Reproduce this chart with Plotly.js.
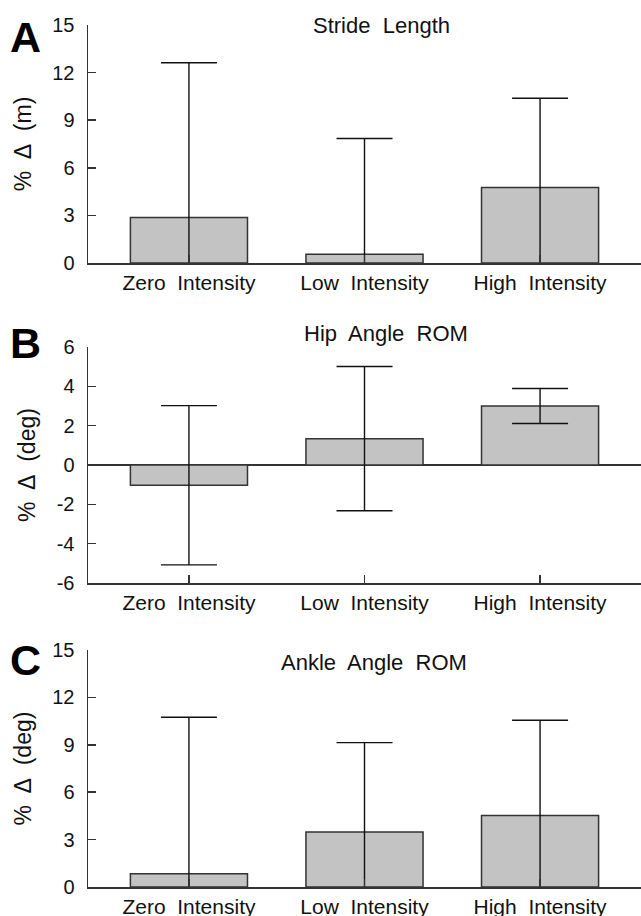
<!DOCTYPE html>
<html><head><meta charset="utf-8">
<script src="https://cdn.plot.ly/plotly-3.0.1.min.js"></script>
<style>html,body{margin:0;padding:0;background:#fff}#chart{width:641px;height:916px}</style>
</head><body><div id="chart"></div>
<script>
const categories = ["Zero\u00a0 Intensity", "Low\u00a0 Intensity", "High\u00a0 Intensity"];
const strideMean = [2.86, 0.55, 4.76];
const strideSD = [9.76, 7.3, 5.62];
const hipMean = [-1.03, 1.34, 3.0];
const hipSD = [4.05, 3.67, 0.89];
const ankleMean = [0.84, 3.48, 4.53];
const ankleSD = [9.9, 5.66, 6.02];
const panelTitles = ["Stride\u00a0 Length", "Hip\u00a0 Angle\u00a0 ROM", "Ankle\u00a0 Angle\u00a0 ROM"];
const panelLetters = ["A", "B", "C"];
const yTitles = ["%\u00a0 \u0394\u00a0 (m)", "%\u00a0 \u0394\u00a0 (deg)", "%\u00a0 \u0394\u00a0 (deg)"];
const strideTickVals = [0, 3, 6, 9, 12, 15];
const strideTickText = ["0", "3", "6", "9", "12", "15"];
const hipTickVals = [-6, -4, -2, 0, 2, 4, 6];
const hipTickText = ["-6", "-4", "-2", "0", "2", "4", "6"];
const ankleTickVals = [0, 3, 6, 9, 12, 15];
const ankleTickText = ["0", "3", "6", "9", "12", "15"];
const yRanges = [[0, 15], [-6, 6], [0, 15]];

const means = [strideMean, hipMean, ankleMean];
const sds = [strideSD, hipSD, ankleSD];
const tickVals = [strideTickVals, hipTickVals, ankleTickVals];
const tickText = [strideTickText, hipTickText, ankleTickText];

const H = 916, W = 641;
const font = "Arial, 'Liberation Sans', sans-serif";
const axisColor = "#333";
// pixel positions of top/bottom of each panel's plot area
const panelPx = [[25, 263], [347, 583], [650, 887]];
const titlePx = [[381, 25], [386, 333], [374, 662]];
const letterPx = [[25, 37], [25, 343], [25, 660]];

const traces = means.map((m, i) => ({
  type: "bar",
  x: categories,
  y: m,
  xaxis: i === 0 ? "x" : "x" + (i + 1),
  yaxis: i === 0 ? "y" : "y" + (i + 1),
  marker: { color: "#c3c3c3", line: { color: "#333", width: 1.5 } },
  error_y: { type: "data", array: sds[i], visible: true, color: "#111", thickness: 1.4, width: 28 },
  hoverinfo: "none",
  showlegend: false
}));

const layout = {
  width: W, height: H,
  margin: { l: 0, r: 0, t: 0, b: 0 },
  paper_bgcolor: "#fff", plot_bgcolor: "#fff",
  bargap: 0.333,
  font: { family: font, color: "#111" },
  showlegend: false,
  annotations: []
};

for (let i = 0; i < 3; i++) {
  const sfx = i === 0 ? "" : String(i + 1);
  const dom = [1 - panelPx[i][1] / H, 1 - panelPx[i][0] / H];
  layout["xaxis" + sfx] = {
    domain: [88 / W, 1],
    anchor: "y" + sfx,
    type: "category",
    range: [-0.575, 2.575],
    showline: true, linecolor: axisColor, linewidth: 1.5,
    ticks: "inside", ticklen: 8, tickcolor: axisColor, tickwidth: 1.5,
    tickfont: { size: 21, family: font, color: "#111" },
    showgrid: false, zeroline: false, fixedrange: true
  };
  layout["yaxis" + sfx] = {
    domain: dom,
    anchor: "x" + sfx,
    range: yRanges[i],
    tickmode: "array", tickvals: tickVals[i], ticktext: tickText[i],
    showline: true, linecolor: axisColor, linewidth: 1.5,
    ticks: "inside", ticklen: 8, tickcolor: axisColor, tickwidth: 1.5,
    tickfont: { size: 20, family: font, color: "#111" },
    ticklabelstandoff: 8,
    showgrid: false,
    zeroline: i === 1, zerolinecolor: axisColor, zerolinewidth: 1.5,
    title: { text: yTitles[i], font: { size: 23, family: font, color: "#111" }, standoff: 14 },
    fixedrange: true
  };
  layout.annotations.push({
    xref: "paper", yref: "paper",
    x: titlePx[i][0] / W, y: 1 - titlePx[i][1] / H,
    xanchor: "center", yanchor: "middle",
    text: panelTitles[i], showarrow: false,
    font: { size: 22, family: font, color: "#111" }
  });
  layout.annotations.push({
    xref: "paper", yref: "paper",
    x: letterPx[i][0] / W, y: 1 - letterPx[i][1] / H,
    xanchor: "center", yanchor: "middle",
    text: "<b>" + panelLetters[i] + "</b>", showarrow: false,
    font: { size: 43, family: font, color: "#000" }
  });
}

Plotly.newPlot("chart", traces, layout, { displayModeBar: false, staticPlot: true });
</script>
</body></html>
